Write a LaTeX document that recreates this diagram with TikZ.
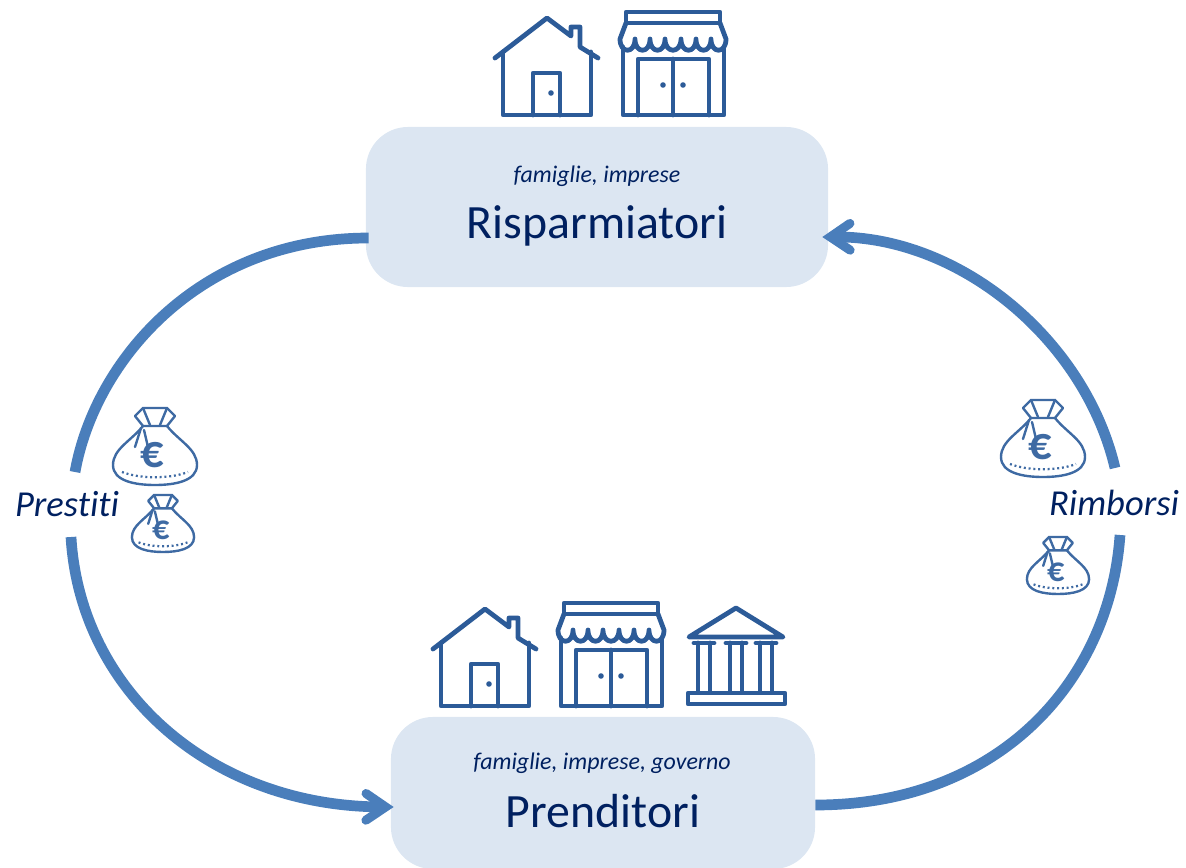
\documentclass[tikz,border=0pt]{standalone}
\usepackage{fontspec}
\setmainfont[Ligatures=NoCommon]{Carlito}
\usepackage{tikz}
\usetikzlibrary{arrows.meta, positioning, calc}
\definecolor{flowblue}{RGB}{74, 126, 187}
\definecolor{boxblue}{RGB}{220, 230, 242}
\definecolor{iconblue}{RGB}{44, 91, 152}
\definecolor{bagblue}{RGB}{62, 106, 163}
\definecolor{textnavy}{RGB}{0, 32, 96}

\tikzset{
  actorbox/.style={fill=boxblue, rounded corners=1.05cm, inner sep=0pt},
  sublabel/.style={font=\fontsize{17}{19}\selectfont\itshape, text=textnavy},
  titlelabel/.style={font=\fontsize{34}{38}\selectfont, text=textnavy},
  flowlabel/.style={font=\fontsize{26}{30}\selectfont\itshape, text=textnavy},
  flowline/.style={draw=flowblue, line width=7.6pt},
  flowarrow/.style={flowline, -{Straight Barb[length=14pt, width=19pt, line width=6.4pt, line cap=round, line join=miter]}},
  icon/.style={draw=iconblue, line width=3.4pt, line join=round, line cap=round},
  house/.pic={
    \draw[icon] (-52,-57) -- (0,-97) -- (24,-79) -- (24,-88) -- (33,-88) -- (33,-68) -- (51,-57);
    \draw[icon] (-44,-63) -- (-44,0) -- (44,0) -- (44,-63);
    \draw[icon] (-14,0) -- (-14,-42) -- (13,-42) -- (13,0);
    \fill[iconblue] (4,-22) circle (2.8);
  },
  shop/.pic={
    \draw[icon] (-47,-103) rectangle (47,-92);
    \draw[icon] (-47,-92) -- (-53,-76) .. controls (-53,-61) and (-38,-61) .. (-38,-76)
      .. controls (-38,-61) and (-23,-61) .. (-23,-76)
      .. controls (-23,-61) and (-8,-61) .. (-8,-76)
      .. controls (-8,-61) and (8,-61) .. (8,-76)
      .. controls (8,-61) and (23,-61) .. (23,-76)
      .. controls (23,-61) and (38,-61) .. (38,-76)
      .. controls (38,-61) and (53,-61) .. (53,-76) -- (47,-92);
    \draw[icon] (-50,-68) -- (-50,0) -- (51,0) -- (51,-68);
    \draw[icon] (-35,0) -- (-35,-56) -- (36,-56) -- (36,0);
    \draw[icon] (0,-56) -- (0,0);
    \fill[iconblue] (-10,-30) circle (2.8) (10,-30) circle (2.8);
  },
  bank/.pic={
    \draw[icon] (0,-99) -- (47,-70) -- (-47,-70) -- cycle;
    \foreach \cx in {-32,0,30} {
      \draw[icon] (\cx-10,-64) -- (\cx+10,-64);
      \draw[icon] (\cx-6,-64) -- (\cx-6,-15);
      \draw[icon] (\cx+6,-64) -- (\cx+6,-15);
    }
    \draw[icon] (-48,-14) rectangle (49,-3);
  },
  moneybag/.pic={
    \begin{scope}[draw=bagblue, line width=1.7pt, line join=round, line cap=round]
      \draw (-12,-59) .. controls (-24,-44) and (-42,-36) .. (-42,-20)
        .. controls (-42,-4) and (-20,0) .. (0,0)
        .. controls (20,0) and (42,-4) .. (42,-20)
        .. controls (42,-36) and (24,-44) .. (12,-59);
      \draw (-12,-59) -- (-20,-69) -- (-12,-77) -- (12,-77) -- (20,-69) -- (12,-59) -- cycle;
      \draw (-12,-77) -- (-5,-60);
      \draw (12,-77) -- (5,-60);
      \draw (-14,-57) -- (-20,-38);
      \draw (-11,-55) -- (-7,-38);
      \draw[dash pattern=on 1.4pt off 2pt, line width=1.6pt, line cap=butt] (-33,-13) .. controls (-15,-6) and (15,-6) .. (33,-13);
    \end{scope}
    \node[font=\fontsize{33}{33}\selectfont\bfseries, text=bagblue, transform shape, inner sep=0pt] (-euro) at (-3,-30) {€};
  }
}

\begin{document}
\begin{tikzpicture}[x=0.025cm, y=-0.025cm]
  \useasboundingbox (0,0) rectangle (1186,868);

  % Actor boxes
  \node[actorbox, minimum width=11.55cm, minimum height=4cm] (risp) at (597,207) {};
  \node[actorbox, minimum width=10.6cm, minimum height=3.8cm] (prend) at (603,793) {};
  \node[sublabel] (rispSub) at (597,176) {famiglie, imprese};
  \node[titlelabel] (rispTitle) at (597,226) {Risparmiatori};
  \node[sublabel] (prendSub) at (602,763) {famiglie, imprese, governo};
  \node[titlelabel] (prendTitle) at (603,811) {Prenditori};

  % Flow labels
  \node[flowlabel] (prestiti) at (67,504) {Prestiti};
  \node[flowlabel] (rimborsi) at (1114,503) {Rimborsi};

  % Connector ends
  \coordinate (rispOut) at ($(risp.west)+(3,31)$);
  \coordinate (rispIn) at ($(risp.east)+(-6,30)$);
  \coordinate (prendIn) at ($(prend.west)+(3,14)$);
  \coordinate (prendOut) at ($(prend.east)+(0,12)$);
  \coordinate (prestitiTop) at (75,472);
  \coordinate (prestitiBot) at (71,537);
  \coordinate (rimborsiTop) at (1115,468);
  \coordinate (rimborsiBot) at (1120,535);

  \draw[flowline] (rispOut) .. controls (200,238) and (95,360) .. (prestitiTop);
  \draw[flowarrow] (prestitiBot) .. controls (80,690) and (210,806) .. (prendIn);
  \draw[flowline] (prendOut) .. controls (1000,805) and (1110,680) .. (rimborsiBot);
  \draw[flowarrow] (rimborsiTop) .. controls (1085,340) and (960,236) .. (rispIn);

  % Icons above the boxes
  \foreach \nm/\kind/\x/\y in {
    rispHouse/house/547/115,
    rispShop/shop/673/115,
    prendHouse/house/485/706,
    prendShop/shop/611/706,
    prendBank/bank/736/707
  } {
    \pic (\nm) at (\x,\y) {\kind};
  }

  % Money bags
  \foreach \nm/\x/\y/\s in {
    bagA/155/485/1,
    bagB/163/552/0.74,
    bagC/1043/477/1,
    bagD/1058/594/0.74
  } {
    \pic[scale=\s] (\nm) at (\x,\y) {moneybag};
  }
\end{tikzpicture}
\end{document}
